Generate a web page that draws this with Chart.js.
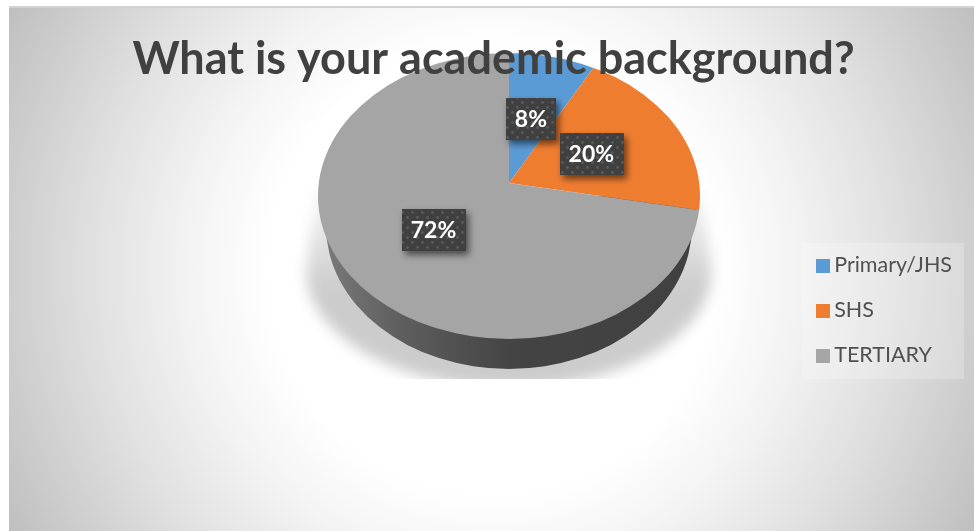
<!DOCTYPE html>
<html>
<head>
<meta charset="utf-8">
<title>Academic background</title>
<script src="https://cdn.jsdelivr.net/npm/chart.js@4/dist/chart.umd.min.js"></script>
<style>
    html, body { margin: 0; padding: 0; background: #fff; overflow: hidden; }
    #panel {
        position: absolute; left: 9px; top: 6px; width: 965px; height: 525px;
        border-top: 2px solid #d2d2d2; box-sizing: border-box;
        background: radial-gradient(circle 545px at 483px 262px, #ffffff 0%, #ffffff 41%, #f4f4f4 55%, #e1e1e1 73%, #c0c0c0 100%);
    }
    #chart { position: absolute; left: 0; top: 0; }
</style>
</head>
<body>
<div id="panel"></div>
<canvas id="chart" width="974" height="531"></canvas>
<script>
const categories = ['Primary/JHS', 'SHS', 'TERTIARY'];
const percentages = [8, 20, 72];
const sliceColors = ['#5b9bd5', '#ef7d30', '#a5a5a5'];

// Pie geometry on the page: tilted top face, apex sits above the ellipse centre
const APEX = { x: 509, y: 183 };
const FACE = { x: 509, y: 196, rx: 191, ry: 143 };
const TILT = 0.75;
const labelRadius = [88, 91, 98];

// Small dotted tile for the value label boxes
function makeDots() {
    const c = document.createElement('canvas');
    c.width = 10;
    c.height = 10;
    const g = c.getContext('2d');
    g.fillStyle = '#404040';
    g.fillRect(0, 0, 10, 10);
    g.fillStyle = '#5a5a5a';
    g.beginPath();
    g.arc(2.5, 2.5, 1.4, 0, Math.PI * 2);
    g.fill();
    g.beginPath();
    g.arc(7.5, 7.5, 1.4, 0, Math.PI * 2);
    g.fill();
    return c;
}

// Legend swatch as an image, so the gap to the text can be set separately
function makeSwatch(color) {
    const c = document.createElement('canvas');
    c.width = 14;
    c.height = 14;
    const g = c.getContext('2d');
    g.fillStyle = color;
    g.fillRect(0, 0, 14, 14);
    return c;
}

const pie3d = {
    id: 'pie3d',
    beforeLayout(chart) {
        // title goes on top of the pie
        const title = chart.titleBlock;
        if (title) title._layers = () => [{ z: 5, draw: (area) => title.draw(area) }];
    },
    afterLayout(chart) {
        // title is centred on the whole panel, legend sits in its own box
        chart.titleBlock.left = 9;
        chart.titleBlock.right = 978;
        chart.legend.left -= 2;
        chart.legend.right -= 2;
        chart.legend.top += 45;
        chart.legend.bottom += 45;
    },
    beforeDraw(chart) {
        const ctx = chart.ctx;

        // legend panel
        ctx.fillStyle = 'rgba(255,255,255,0.22)';
        ctx.fillRect(802, 243, 162, 136);

        // soft shadow under the pie, cut off flat at the bottom
        const fade = ctx.createLinearGradient(0, 190, 0, 290);
        fade.addColorStop(0, 'rgba(0,0,0,0.03)');
        fade.addColorStop(1, 'rgba(0,0,0,0.2)');
        ctx.save();
        ctx.beginPath();
        ctx.rect(280, 190, 460, 189);
        ctx.clip();
        ctx.filter = 'blur(7px)';
        ctx.fillStyle = fade;
        ctx.beginPath();
        ctx.moveTo(320, 170);
        ctx.lineTo(306, 270);
        ctx.ellipse(509, 270, 203, 118, 0, Math.PI, 0, true);
        ctx.lineTo(698, 170);
        ctx.closePath();
        ctx.fill();
        ctx.restore();
    },
    beforeDatasetsDraw(chart) {
        const ctx = chart.ctx;
        const arc = chart.getDatasetMeta(0).data[0];

        // side wall
        const wall = ctx.createLinearGradient(317, 0, 701, 0);
        wall.addColorStop(0, '#7c7c7c');
        wall.addColorStop(0.22, '#5e5e5e');
        wall.addColorStop(0.5, '#444444');
        wall.addColorStop(1, '#404040');
        ctx.fillStyle = wall;
        ctx.beginPath();
        ctx.moveTo(FACE.x - FACE.rx, FACE.y);
        ctx.lineTo(FACE.x + FACE.rx, FACE.y);
        ctx.lineTo(FACE.x + 183, 226);
        ctx.ellipse(FACE.x, 226, 183, 143, 0, 0, Math.PI);
        ctx.closePath();
        ctx.fill();

        // squash the slices, trimmed to the top face
        ctx.save();
        ctx.beginPath();
        ctx.ellipse(FACE.x, FACE.y, FACE.rx, FACE.ry, 0, 0, Math.PI * 2);
        ctx.clip();
        ctx.translate(APEX.x, APEX.y);
        ctx.scale(1, TILT);
        ctx.translate(-arc.x, -arc.y);
    },
    afterDatasetsDraw(chart) {
        const ctx = chart.ctx;
        ctx.restore();

        const meta = chart.getDatasetMeta(0);
        const dots = ctx.createPattern(makeDots(), 'repeat');
        ctx.font = 'bold 23px Lato';
        ctx.textAlign = 'center';
        ctx.textBaseline = 'middle';
        meta.data.forEach((el, i) => {
            const mid = (el.startAngle + el.endAngle) / 2;
            const px = APEX.x + Math.cos(mid) * labelRadius[i];
            const py = APEX.y + Math.sin(mid) * labelRadius[i] * TILT;
            const text = percentages[i] + '%';
            const w = ctx.measureText(text).width + 18;
            const h = 42;
            ctx.save();
            ctx.shadowColor = 'rgba(0,0,0,0.55)';
            ctx.shadowBlur = 7;
            ctx.shadowOffsetX = 3;
            ctx.shadowOffsetY = 4;
            ctx.fillStyle = dots;
            ctx.fillRect(Math.round(px - w / 2), Math.round(py - h / 2), Math.round(w), h);
            ctx.restore();
            ctx.fillStyle = '#ffffff';
            ctx.fillText(text, px, py + 1);
        });
    }
};

new Chart(document.getElementById('chart'), {
    type: 'pie',
    data: {
        labels: categories,
        datasets: [{
            data: percentages,
            backgroundColor: sliceColors,
            borderWidth: 0
        }]
    },
    plugins: [pie3d],
    options: {
        responsive: false,
        animation: false,
        layout: { padding: { left: 216, right: 10, top: 0, bottom: 0 } },
        plugins: {
            tooltip: { enabled: false },
            title: {
                display: true,
                text: 'What is your academic background?',
                color: '#404040',
                font: { family: 'Lato', size: 45, weight: 'bold' },
                padding: { top: 32, bottom: 10 }
            },
            legend: {
                position: 'right',
                labels: {
                    color: '#505050',
                    font: { family: 'Lato', size: 21.5 },
                    padding: 23.5,
                    usePointStyle: true,
                    pointStyleWidth: 0.1,
                    boxHeight: 14,
                    generateLabels(chart) {
                        return categories.map((name, i) => ({
                            text: name,
                            pointStyle: makeSwatch(sliceColors[i]),
                            fillStyle: sliceColors[i],
                            strokeStyle: sliceColors[i],
                            lineWidth: 0,
                            fontColor: '#505050',
                            index: i
                        }));
                    }
                }
            }
        }
    }
});
</script>
</body>
</html>
